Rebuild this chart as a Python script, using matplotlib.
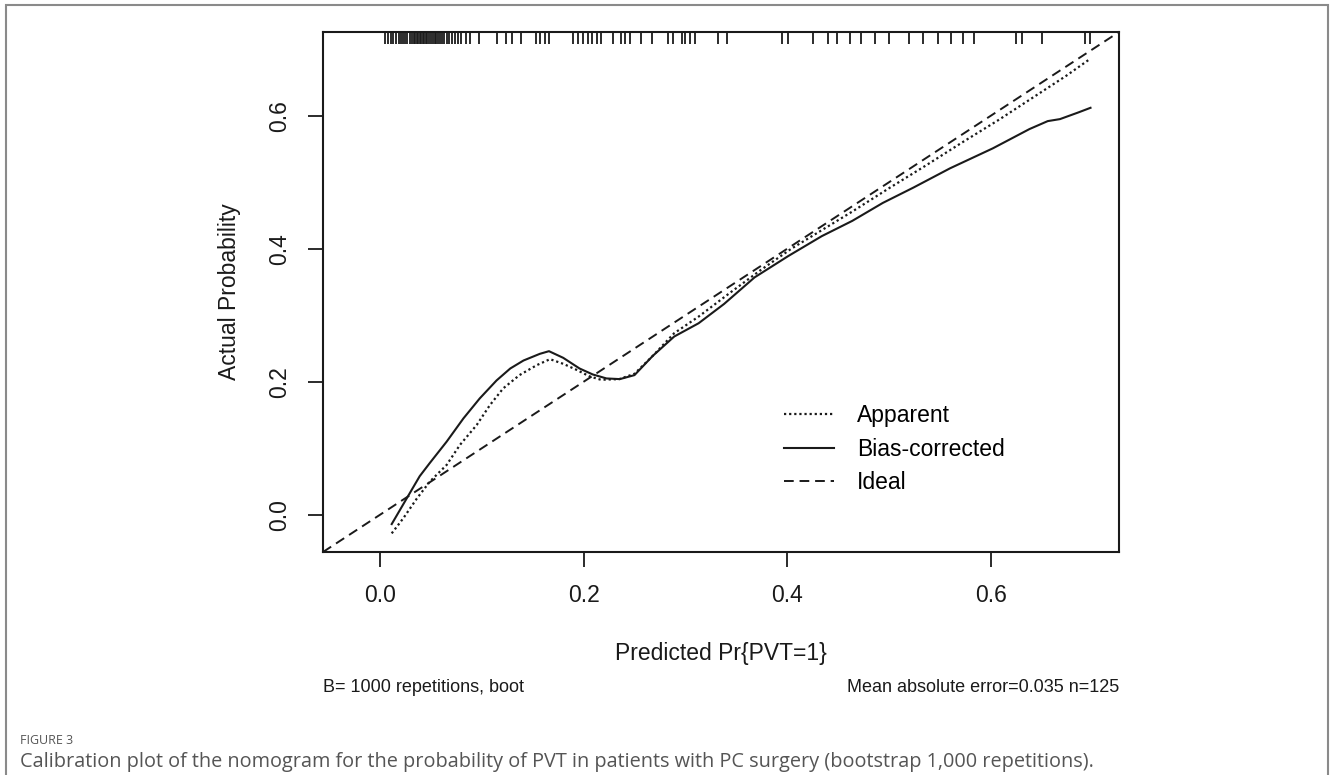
import matplotlib
matplotlib.use("Agg")
import matplotlib.pyplot as plt
from matplotlib.patches import Rectangle

plt.rcParams['font.family'] = ['Liberation Sans', 'DejaVu Sans']

# calibration curves
apparent_x = [0.0115, 0.023, 0.036, 0.049, 0.0655, 0.0785, 0.095, 0.108, 0.121, 0.137,
              0.154, 0.167, 0.180, 0.193, 0.206, 0.217, 0.235, 0.250, 0.268, 0.289,
              0.313, 0.344, 0.374, 0.404, 0.434, 0.464, 0.500, 0.536, 0.572, 0.608,
              0.644, 0.674, 0.698]
apparent_y = [-0.028, -0.005, 0.024, 0.050, 0.075, 0.105, 0.135, 0.165, 0.190, 0.210,
              0.225, 0.234, 0.227, 0.218, 0.208, 0.203, 0.204, 0.212, 0.239, 0.273,
              0.298, 0.334, 0.368, 0.400, 0.428, 0.456, 0.491, 0.525, 0.560, 0.594,
              0.630, 0.660, 0.686]

bias_x = [0.0115, 0.026, 0.039, 0.049, 0.0655, 0.082, 0.098, 0.1145, 0.128, 0.141,
          0.157, 0.166, 0.180, 0.196, 0.209, 0.2225, 0.2356, 0.250, 0.268, 0.289,
          0.313, 0.338, 0.368, 0.401, 0.434, 0.464, 0.494, 0.524, 0.560, 0.602,
          0.638, 0.656, 0.668, 0.686, 0.698]
bias_y = [-0.014, 0.024, 0.058, 0.078, 0.110, 0.145, 0.175, 0.202, 0.220, 0.232,
          0.242, 0.246, 0.236, 0.220, 0.211, 0.205, 0.204, 0.210, 0.239, 0.268,
          0.288, 0.317, 0.357, 0.389, 0.419, 0.442, 0.469, 0.492, 0.521, 0.551,
          0.580, 0.592, 0.595, 0.605, 0.612]

# predicted probabilities shown as rug at the top
rug = [0.005, 0.008, 0.011, 0.013, 0.016, 0.019, 0.021, 0.023, 0.025, 0.027,
       0.029, 0.031, 0.033, 0.034, 0.036, 0.037, 0.039, 0.040, 0.042, 0.043,
       0.045, 0.046, 0.048, 0.050, 0.052, 0.054, 0.055, 0.057, 0.059, 0.061,
       0.063, 0.066, 0.068, 0.071, 0.074, 0.077, 0.080, 0.084, 0.088,
       0.097, 0.115, 0.124, 0.130, 0.139, 0.153, 0.157, 0.162, 0.166, 0.190,
       0.195, 0.199, 0.204, 0.208, 0.213, 0.217, 0.229, 0.237, 0.241, 0.246,
       0.256, 0.267, 0.283, 0.288, 0.297, 0.300, 0.305, 0.309, 0.332, 0.341,
       0.395, 0.401, 0.425, 0.440, 0.449, 0.462, 0.473, 0.486, 0.500, 0.520,
       0.533, 0.548, 0.561, 0.573, 0.584, 0.625, 0.631, 0.650, 0.693, 0.698]

ticks = [0.0, 0.2, 0.4, 0.6]
lims = (-0.056, 0.726)

fig = plt.figure(figsize=(13.3, 7.75), dpi=100)
ax = fig.add_axes([323 / 1330, 1 - 552 / 775, 796 / 1330, 520 / 775])

ink = '#1a1a1a'
ax.plot(apparent_x, apparent_y, color=ink, lw=1.6, linestyle=(0, (1, 1.3)), label='Apparent')
ax.plot(bias_x, bias_y, color=ink, lw=1.5, linestyle='-', label='Bias-corrected')
ax.axline((0, 0), slope=1, color=ink, lw=1.4, linestyle=(0, (5, 3)), label='Ideal')
ax.vlines(rug, 0.977, 1.0, transform=ax.get_xaxis_transform(), color=ink, lw=1.3)

ax.set_xlim(lims)
ax.set_ylim(lims)
ax.set_xticks(ticks)
ax.set_yticks(ticks)
ax.set_xticklabels(['%.1f' % t for t in ticks])
ax.set_yticklabels(['%.1f' % t for t in ticks], rotation=90, va='center')
ax.tick_params(axis='both', direction='out', length=11, width=1.3, colors=ink,
               labelsize=16.5, pad=12)
for s in ax.spines.values():
    s.set_linewidth(1.5)
    s.set_color(ink)

ax.set_xlabel('Predicted Pr{PVT=1}', fontsize=16.5, color=ink)
ax.xaxis.set_label_coords(0.5, -0.195)
ax.xaxis.label.set_va('center')
ax.set_ylabel('Actual Probability', fontsize=16.5, color=ink)
ax.yaxis.set_label_coords(-0.118, 0.5)
ax.yaxis.label.set_va('center')

ax.legend(loc='upper left', bbox_to_anchor=(0.579, 0.284), frameon=False,
          fontsize=16.5, handlelength=2.2, handletextpad=1.0, labelspacing=0.45,
          borderpad=0, borderaxespad=0)

fig.text(323 / 1330, 1 - 687 / 775, 'B= 1000 repetitions, boot', fontsize=13,
         ha='left', va='center', color=ink)
fig.text(1119 / 1330, 1 - 687 / 775, 'Mean absolute error=0.035 n=125', fontsize=13,
         ha='right', va='center', color=ink)

# frame and caption of the figure
fig.patches.append(Rectangle((6 / 1330, -0.05), 1322 / 1330, 1.05 - 5 / 775, fill=False,
                             edgecolor='#8a8a8a', lw=1.5, transform=fig.transFigure))
fig.text(20 / 1330, 1 - 740 / 775, 'FIGURE 3', fontsize=9, color='#555555',
         family='Open Sans', ha='left', va='center')
fig.text(20 / 1330, 1 - 762 / 775,
         'Calibration plot of the nomogram for the probability of PVT in patients with PC '
         'surgery (bootstrap 1,000 repetitions).',
         fontsize=14.3, color='#555555', family='Open Sans', ha='left', va='center')

fig.savefig('out.png', dpi=100)
